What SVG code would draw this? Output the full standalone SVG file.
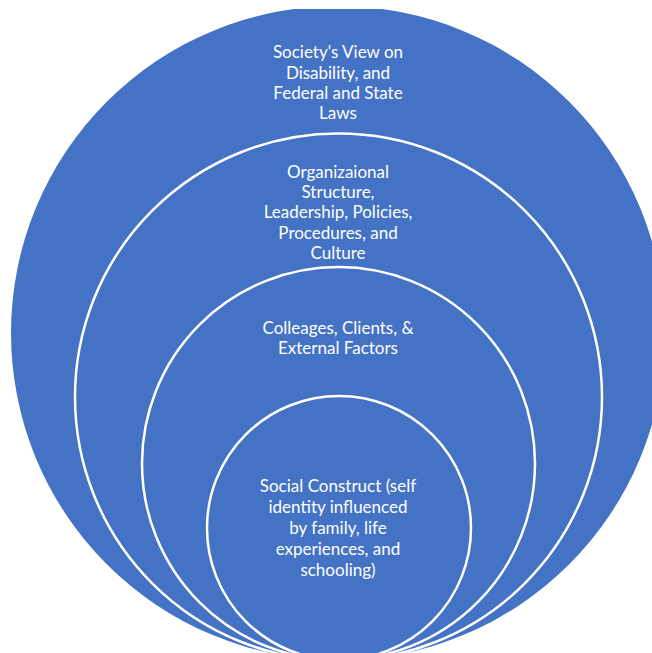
<svg xmlns="http://www.w3.org/2000/svg" width="652" height="653" viewBox="0 0 652 653">
  <style>
    .ring { fill: #4472C4; stroke: #FFFFFF; stroke-width: 2.5; }
    .outer { fill: #4472C4; }
    .lbl { font-family: Lato, "Liberation Sans", sans-serif; font-size: 17px; fill: #FFFFFF; text-anchor: middle; }
  </style>
  <defs>
    <clipPath id="topclip">
      <rect x="0" y="9" width="652" height="644"/>
    </clipPath>
  </defs>
  <rect width="652" height="653" fill="#FFFFFF"/>
  <g id="society">
    <circle class="outer" cx="338" cy="333" r="327" clip-path="url(#topclip)"/>
    <text class="lbl" x="338" y="58">Society's View on</text>
    <text class="lbl" x="338" y="78.5">Disability, and</text>
    <text class="lbl" x="338" y="99">Federal and State</text>
    <text class="lbl" x="338" y="119">Laws</text>
  </g>
  <g id="organization">
    <circle class="ring" cx="338.5" cy="397" r="263.5"/>
    <text class="lbl" x="338" y="177.5">Organizaional</text>
    <text class="lbl" x="338" y="198">Structure,</text>
    <text class="lbl" x="338" y="218">Leadership, Policies,</text>
    <text class="lbl" x="338" y="238.5">Procedures, and</text>
    <text class="lbl" x="338" y="258.5">Culture</text>
  </g>
  <g id="colleagues">
    <circle class="ring" cx="338.5" cy="463.5" r="196.5"/>
    <text class="lbl" x="338" y="333.5">Colleages, Clients, &amp;</text>
    <text class="lbl" x="338" y="353.5">External Factors</text>
  </g>
  <g id="social">
    <circle class="ring" cx="339" cy="528" r="132"/>
    <text class="lbl" x="338" y="492">Social Construct (self</text>
    <text class="lbl" x="338" y="512.5">identity influenced</text>
    <text class="lbl" x="338" y="534">by family, life</text>
    <text class="lbl" x="338" y="555">experiences, and</text>
    <text class="lbl" x="338" y="575.5">schooling)</text>
  </g>
</svg>
